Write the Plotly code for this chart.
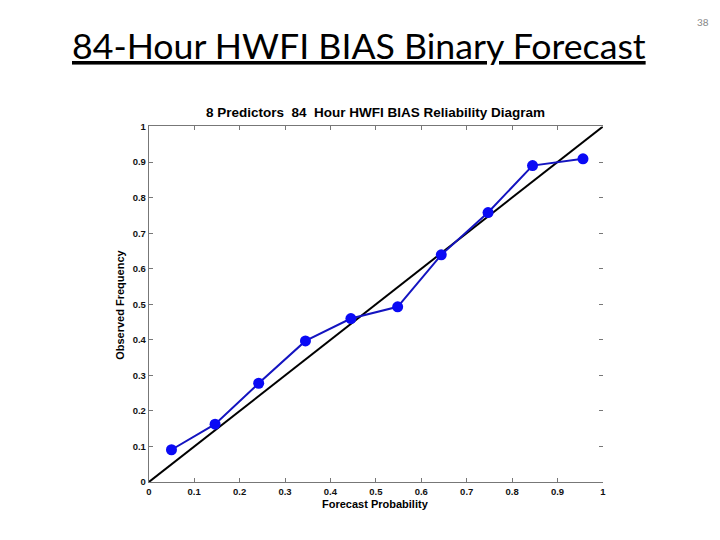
import plotly.graph_objects as go

forecast_prob = [0.05, 0.146, 0.242, 0.345, 0.445, 0.548, 0.644, 0.747, 0.845, 0.956]
observed_freq = [0.091, 0.163, 0.278, 0.397, 0.460, 0.493, 0.639, 0.758, 0.890, 0.909]
diag_x = [0, 1]
diag_y = [0, 1]
tick_vals = [0, 0.1, 0.2, 0.3, 0.4, 0.5, 0.6, 0.7, 0.8, 0.9, 1]
tick_text = ["<b>%s</b>" % t for t in ["0", "0.1", "0.2", "0.3", "0.4", "0.5", "0.6", "0.7", "0.8", "0.9", "1"]]

W, H = 720, 540
L, R, T, B = 147, 605, 123, 486
xd = [L / W, R / W]
yd = [1 - B / H, 1 - T / H]

fig = go.Figure()
fig.add_trace(go.Scatter(x=diag_x, y=diag_y, mode="lines",
                         line=dict(color="black", width=2), showlegend=False))
fig.add_trace(go.Scatter(x=forecast_prob, y=observed_freq, mode="lines+markers",
                         line=dict(color="#1414c0", width=2),
                         marker=dict(color="#0a0af5", size=11),
                         showlegend=False))
# invisible trace for right-side ticks
fig.add_trace(go.Scatter(x=[0], y=[0], yaxis="y2", mode="markers",
                         marker=dict(opacity=0), showlegend=False, hoverinfo="skip"))

tickfont = dict(family="Liberation Sans, Arial", size=9.5, color="#111")
fig.update_layout(
    width=W, height=H,
    margin=dict(l=0, r=0, t=0, b=0),
    paper_bgcolor="white", plot_bgcolor="white",
    xaxis=dict(domain=xd, range=[0, 1], tickvals=tick_vals, ticktext=tick_text,
               showgrid=False, zeroline=False, showline=True, linecolor="#777",
               linewidth=1, mirror="ticks", ticks="inside", ticklen=4,
               tickcolor="#777", tickfont=tickfont),
    yaxis=dict(domain=yd, range=[0, 1], tickvals=tick_vals, ticktext=tick_text,
               showgrid=False, zeroline=False, showline=True, linecolor="#777",
               linewidth=1, mirror=False, ticks="inside", ticklen=4,
               tickcolor="#777", tickfont=tickfont),
    yaxis2=dict(overlaying="y", side="right", range=[0, 1], tickvals=tick_vals,
                showticklabels=False, showgrid=False, zeroline=False, showline=False,
                ticks="inside", ticklen=4, tickcolor="#777"),
)

fig.add_annotation(text="<b>8 Predictors  84  Hour HWFI BIAS Reliability Diagram</b>",
                   x=376 / W, y=1 - 109 / H, xref="paper", yref="paper",
                   showarrow=False, font=dict(family="Liberation Sans, Arial", size=13.5, color="black"),
                   xanchor="center", yanchor="middle")
fig.add_annotation(text="<b>Forecast Probability</b>", x=376 / W, y=1 - 508 / H,
                   xref="paper", yref="paper", showarrow=False,
                   font=dict(family="Liberation Sans, Arial", size=11, color="black"),
                   xanchor="center", yanchor="middle")
fig.add_annotation(text="<b>Observed Frequency</b>", x=118 / W, y=1 - 305 / H,
                   xref="paper", yref="paper", showarrow=False, textangle=-90,
                   font=dict(family="Liberation Sans, Arial", size=11, color="black"),
                   xanchor="center", yanchor="middle")
fig.add_annotation(text="<u>84-Hour HWFI BIAS Binary Forecast</u>", x=359 / W, y=1 - 40 / H,
                   xref="paper", yref="paper", showarrow=False,
                   font=dict(family="Lato, Noto Sans", size=35.7, color="black"),
                   xanchor="center", yanchor="middle")
fig.add_annotation(text="38", x=706 / W, y=1 - 16 / H, xref="paper", yref="paper",
                   showarrow=False, font=dict(family="Lato", size=10, color="#888"),
                   xanchor="center", yanchor="middle")

fig.write_html("out.html")
